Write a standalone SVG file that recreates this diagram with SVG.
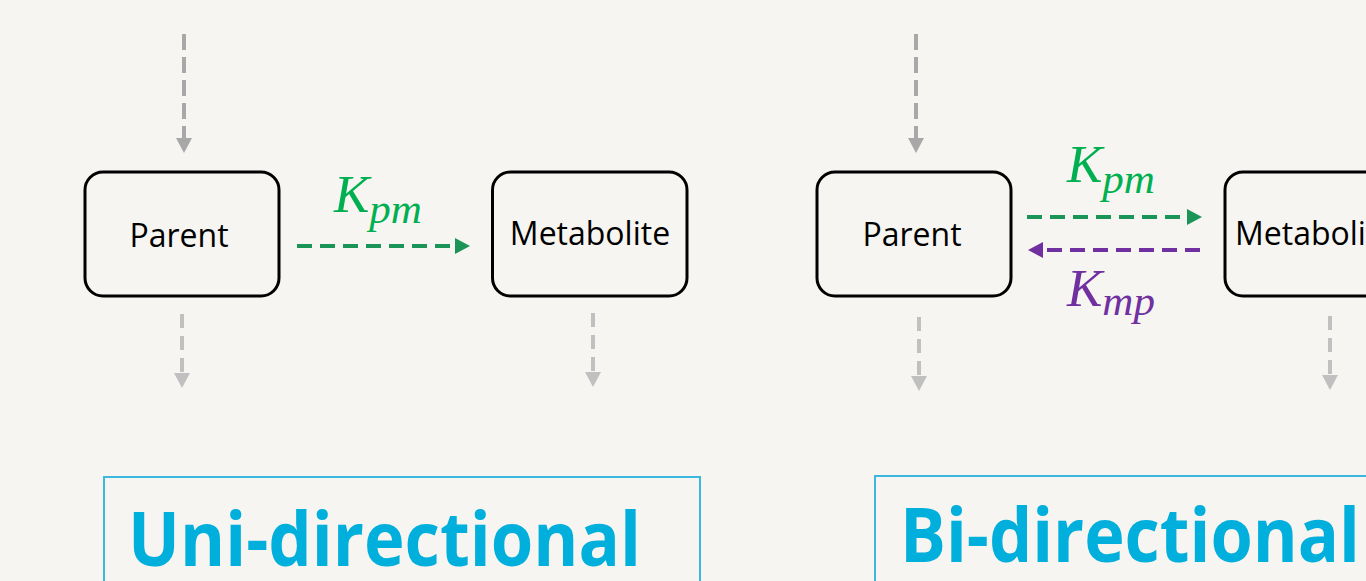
<svg xmlns="http://www.w3.org/2000/svg" width="1366" height="581" viewBox="0 0 1366 581">
<style>
.node{fill:none;stroke:#000;stroke-width:3}
.nlabel{font-family:"Open Sans","Liberation Sans",sans-serif;font-size:32px;fill:#000}
.gtop{stroke:#a8a8a8;stroke-width:4;stroke-dasharray:16 7;fill:none}
.gbot{stroke:#c0c0c0;stroke-width:4;stroke-dasharray:14 8;fill:none}
.kpm{stroke:#1b9457;stroke-width:4;stroke-dasharray:15 8;fill:none}
.kmp{stroke:#7030a0;stroke-width:4;stroke-dasharray:15 8;fill:none}
.math{font-family:"Liberation Serif","DejaVu Serif",serif;font-style:italic}
.title{font-family:"Open Sans","Liberation Sans",sans-serif;font-weight:bold;font-size:76px;fill:#00afdc}
.tbox{fill:none;stroke:#3cb8de;stroke-width:2}
</style>
<defs>
<marker id="ahTop" markerUnits="userSpaceOnUse" markerWidth="16" markerHeight="16" refX="0" refY="8" orient="auto" viewBox="0 0 16 16"><path d="M0,0 L15,8 L0,16 z" fill="#a8a8a8"/></marker>
<marker id="ahBot" markerUnits="userSpaceOnUse" markerWidth="16" markerHeight="16" refX="0" refY="8" orient="auto" viewBox="0 0 16 16"><path d="M0,0 L15,8 L0,16 z" fill="#c0c0c0"/></marker>
<marker id="ahGreen" markerUnits="userSpaceOnUse" markerWidth="16" markerHeight="16" refX="0" refY="8" orient="auto" viewBox="0 0 16 16"><path d="M0,0 L15,8 L0,16 z" fill="#1b9457"/></marker>
<marker id="ahPurple" markerUnits="userSpaceOnUse" markerWidth="16" markerHeight="16" refX="0" refY="8" orient="auto" viewBox="0 0 16 16"><path d="M0,0 L15,8 L0,16 z" fill="#7030a0"/></marker>
</defs>
<rect x="0" y="0" width="1366" height="581" fill="#f7f5f1"/>

<g id="connectors">
<line class="gtop" x1="184" y1="34" x2="184" y2="138" marker-end="url(#ahTop)"/>
<line class="gbot" x1="182" y1="314" x2="182" y2="373" marker-end="url(#ahBot)"/>
<line class="gbot" x1="593" y1="313" x2="593" y2="372" marker-end="url(#ahBot)"/>
<line class="kpm" x1="297" y1="246" x2="455" y2="246" marker-end="url(#ahGreen)"/>
<line class="gtop" x1="916" y1="34" x2="916" y2="138" marker-end="url(#ahTop)"/>
<line class="gbot" x1="919" y1="317" x2="919" y2="376" marker-end="url(#ahBot)"/>
<line class="gbot" x1="1330" y1="316" x2="1330" y2="375" marker-end="url(#ahBot)"/>
<line class="kpm" x1="1027" y1="217" x2="1187" y2="217" marker-end="url(#ahGreen)"/>
<line class="kmp" x1="1200" y1="250" x2="1043" y2="250" marker-end="url(#ahPurple)"/>
<text class="math" x="334" y="212" fill="#00b050" font-size="53">K<tspan font-size="43" y="223">pm</tspan></text>
<text class="math" x="1067" y="182" fill="#00b050" font-size="53">K<tspan font-size="43" y="193">pm</tspan></text>
<text class="math" x="1067" y="306" fill="#7030a0" font-size="53">K<tspan font-size="43" y="315">mp</tspan></text>
</g>

<g id="parent-uni">
<rect class="node" x="85" y="172" width="194" height="124" rx="18"/>
<text class="nlabel" x="179" y="247" text-anchor="middle">Parent</text>
</g>
<g id="metabolite-uni">
<rect class="node" x="492.5" y="172" width="194.5" height="124" rx="18"/>
<text class="nlabel" x="590" y="245" text-anchor="middle">Metabolite</text>
</g>
<g id="parent-bi">
<rect class="node" x="817" y="172" width="194" height="124" rx="18"/>
<text class="nlabel" x="912" y="246" text-anchor="middle">Parent</text>
</g>
<g id="metabolite-bi">
<rect class="node" x="1225" y="172" width="194" height="124" rx="18"/>
<text class="nlabel" x="1235" y="245">Metabolite</text>
</g>

<g id="label-uni">
<rect class="tbox" x="104" y="477" width="596" height="130"/>
<text class="title" x="128" y="566" textLength="513" lengthAdjust="spacingAndGlyphs">Uni-directional</text>
</g>
<g id="label-bi">
<rect class="tbox" x="875" y="476" width="540" height="130"/>
<text class="title" x="900" y="562" textLength="460" lengthAdjust="spacingAndGlyphs">Bi-directional</text>
</g>
</svg>
